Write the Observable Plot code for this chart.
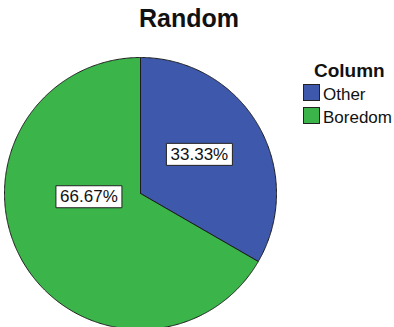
<!DOCTYPE html>
<html><head><meta charset="utf-8">
<script src="https://cdn.jsdelivr.net/npm/d3@7"></script>
<script src="https://cdn.jsdelivr.net/npm/@observablehq/plot@0.6"></script>
<style>
body{margin:0;background:#fff;font-family:"Liberation Sans",Arial,sans-serif;color:#111;}
#wrap{position:relative;width:394px;height:327px;overflow:hidden;}
#wrap svg{position:absolute;left:0;top:0;}
.t{position:absolute;line-height:1;white-space:nowrap;}
#title{left:0;width:378px;top:6px;text-align:center;font-weight:bold;font-size:25px;}
#ltitle{left:314px;top:61px;font-weight:bold;font-size:19px;}
.sw{position:absolute;width:15px;height:15px;border:1px solid #222;}
.lt{font-size:17px;}
</style>
</head><body>
<div id="wrap">
  <div id="title" class="t">Random</div>
  <div id="ltitle" class="t">Column</div>
</div>
<script>
const title = "Random";
const legendTitle = "Column";
const categories = ["Other", "Boredom"];
const values = [1, 2];
const colors = ["#3E58AC", "#3BB44A"];

// layout constants (pixels)
const W = 394, H = 327, CX = 140, CY = 193, R = 136;
// label placement within each slice: fraction of slice angle, fraction of radius
const labelLayout = [{t: 0.47, r: 0.52}, {t: 0.61, r: 0.38}];

const total = d3.sum(values);
const arcs = d3.pie().sort(null).value(d => d)(values);

const pts = [];
arcs.forEach((a, i) => {
  const cat = categories[i];
  pts.push({cat, x: 0, y: 0});
  const n = Math.max(2, Math.ceil((a.endAngle - a.startAngle) / (Math.PI / 360)));
  for (let k = 0; k <= n; k++) {
    const ang = a.startAngle + (a.endAngle - a.startAngle) * k / n;
    pts.push({cat, x: Math.sin(ang), y: Math.cos(ang)});
  }
  pts.push({cat, x: 0, y: 0});
});

const labels = arcs.map((a, i) => {
  const L = labelLayout[i];
  const ang = a.startAngle + (a.endAngle - a.startAngle) * L.t;
  return {
    cat: categories[i],
    x: Math.sin(ang) * L.r,
    y: Math.cos(ang) * L.r,
    text: d3.format(".2f")(values[i] / total * 100) + "%"
  };
});

const boxSymbol = {draw(ctx) { ctx.rect(-33, -11, 66, 22); }};

const chart = Plot.plot({
  width: W, height: H, margin: 0,
  x: {domain: [-CX / R, (W - CX) / R], axis: null},
  y: {domain: [(CY - H) / R, CY / R], axis: null},
  color: {domain: categories, range: colors},
  style: {background: "transparent", fontFamily: "'Liberation Sans', Arial, sans-serif"},
  marks: [
    Plot.line(pts, {x: "x", y: "y", z: "cat", fill: "cat", stroke: "#1e1e1e", strokeWidth: 1, strokeLinejoin: "round"}),
    Plot.dot(labels, {x: "x", y: "y", symbol: boxSymbol, r: 5, fill: "white", stroke: "#222", strokeWidth: 1}),
    Plot.text(labels, {x: "x", y: "y", text: "text", fontSize: 17, fill: "#111"})
  ]
});
const wrap = document.getElementById("wrap");
wrap.insertBefore(chart, wrap.firstChild);
document.getElementById("title").textContent = title;
document.getElementById("ltitle").textContent = legendTitle;

categories.forEach((c, i) => {
  const sw = document.createElement("div");
  sw.className = "sw";
  sw.style.left = "303px";
  sw.style.top = (84 + i * 23) + "px";
  sw.style.background = colors[i];
  wrap.appendChild(sw);
  const t = document.createElement("div");
  t.className = "t lt";
  t.style.left = "323px";
  t.style.top = (85.5 + i * 23) + "px";
  t.textContent = c;
  wrap.appendChild(t);
});
</script>
</body></html>
